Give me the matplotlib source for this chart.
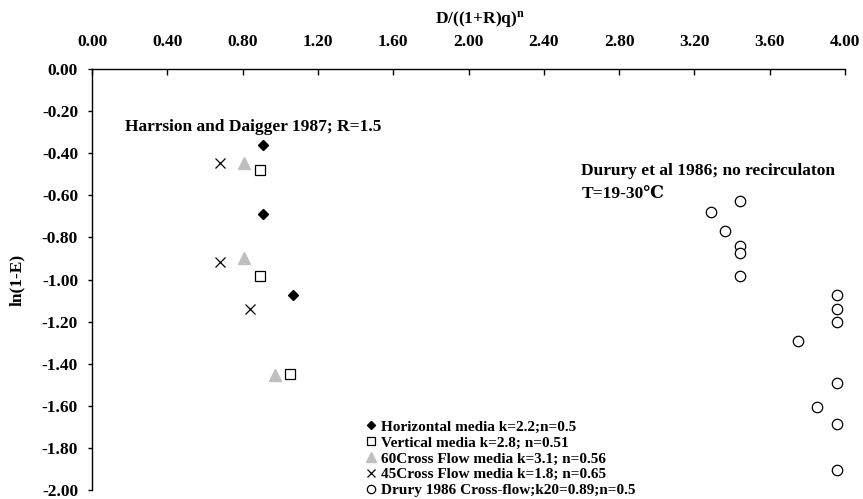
import matplotlib
matplotlib.use('Agg')
import matplotlib.pyplot as plt

plt.rcParams['font.family'] = ['Liberation Serif', 'DejaVu Serif']
plt.rcParams['font.weight'] = 'bold'
plt.rcParams['mathtext.fontset'] = 'custom'
plt.rcParams['mathtext.rm'] = 'Liberation Serif:bold'
plt.rcParams['mathtext.bf'] = 'Liberation Serif:bold'
plt.rcParams['mathtext.it'] = 'Liberation Serif:bold'

# Harrison and Daigger 1987 data
horiz_x = [0.91, 0.91, 1.07]
horiz_y = [-0.36, -0.69, -1.075]
vert_x = [0.89, 0.89, 1.05]
vert_y = [-0.48, -0.985, -1.45]
cf60_x = [0.81, 0.81, 0.97]
cf60_y = [-0.445, -0.90, -1.455]
cf45_x = [0.68, 0.68, 0.84]
cf45_y = [-0.445, -0.915, -1.14]

# Drury 1986 cross-flow
drury_x = [3.44, 3.29, 3.36, 3.44, 3.44, 3.44, 3.96, 3.96, 3.96, 3.75, 3.96, 3.85, 3.96, 3.96]
drury_y = [-0.625, -0.68, -0.77, -0.84, -0.875, -0.985, -1.075, -1.14, -1.20, -1.29, -1.49, -1.605, -1.685, -1.905]

x_ticks = [0.0, 0.4, 0.8, 1.2, 1.6, 2.0, 2.4, 2.8, 3.2, 3.6, 4.0]
y_ticks = [0.0, -0.2, -0.4, -0.6, -0.8, -1.0, -1.2, -1.4, -1.6, -1.8, -2.0]

fig = plt.figure(figsize=(8.63, 4.99), dpi=100)
# axes box: left spine at x=92px, top spine at y=69px, bottom at y=490px
ax = fig.add_axes([92 / 863, 1 - 490 / 499, 753 / 863, 421 / 499])

ax.plot(horiz_x, horiz_y, 'D', color='black', markersize=5.3, linestyle='none',
        label='Horizontal media k=2.2;n=0.5')
ax.plot(vert_x, vert_y, 's', markerfacecolor='white', markeredgecolor='black', markersize=7.5,
        markeredgewidth=0.9, linestyle='none', label='Vertical media k=2.8; n=0.51')
ax.plot(cf60_x, cf60_y, '^', color='#bfbfbf', markersize=9, linestyle='none',
        label='60Cross Flow media k=3.1; n=0.56')
ax.plot(cf45_x, cf45_y, 'x', color='black', markersize=7, markeredgewidth=0.9, linestyle='none',
        label='45Cross Flow media k=1.8; n=0.65')
ax.plot(drury_x, drury_y, 'o', markerfacecolor='white', markeredgecolor='black', markersize=7.5,
        markeredgewidth=0.9, linestyle='none', label='Drury 1986 Cross-flow;k20=0.89;n=0.5')

ax.set_xlim(0, 4)
ax.set_ylim(-2, 0)
ax.xaxis.tick_top()
ax.xaxis.set_label_position('top')
ax.set_xticks(x_ticks)
ax.set_xticklabels(['%.2f' % v for v in x_ticks])
ax.set_yticks(y_ticks)
ax.set_yticklabels(['%.2f' % v for v in y_ticks])
ax.tick_params(axis='x', direction='in', length=4, width=1, pad=14, labelsize=12.5)
ax.tick_params(axis='y', direction='out', length=3, width=1, pad=7, labelsize=12.5)

for s in ['right', 'bottom']:
    ax.spines[s].set_visible(False)
for s in ['left', 'top']:
    ax.spines[s].set_linewidth(1)

ax.set_xlabel(r'D/((1+R)q)$^{\mathrm{n}}$', fontsize=12.5, fontweight='bold')
ax.xaxis.set_label_coords((480 - 92) / 753, (476 - 9) / 421)
ax.set_ylabel('ln(1-E)', fontsize=12.5, fontweight='bold', labelpad=12)

ax.text(0.175, -0.275, 'Harrsion and Daigger 1987; R=1.5', fontsize=12.5, fontweight='bold', va='center')
ax.text(2.60, -0.485, 'Durury et al 1986; no recirculaton', fontsize=12.5, fontweight='bold', va='center')
ax.text(2.60, -0.595, 'T=19-30℃', fontsize=12.5, fontweight='bold', va='center')

ax.legend(loc='upper left', bbox_to_anchor=(366 / 863, 1 - 420 / 499), bbox_transform=fig.transFigure,
          frameon=False, fontsize=11, handlelength=0.6, handletextpad=0.4, labelspacing=0.14,
          borderpad=0, borderaxespad=0, markerscale=0.8)

fig.savefig('out.png', dpi=100)
